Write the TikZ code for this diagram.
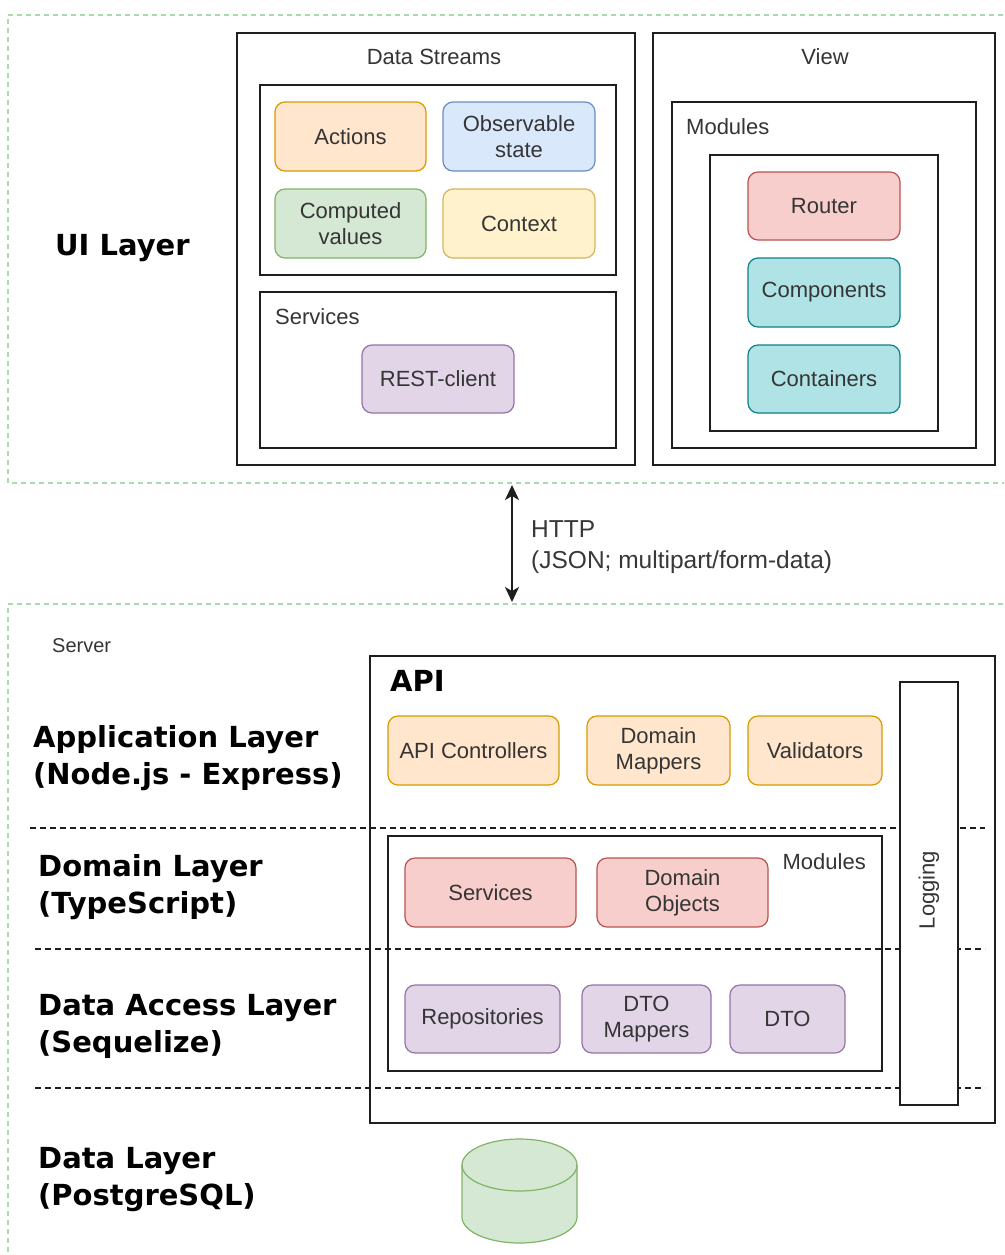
\documentclass[tikz,border=0pt]{standalone}
\usepackage{fontspec}
\setmainfont{Liberation Sans}
\newfontfamily\heavy{DejaVu Sans}
\usetikzlibrary{arrows.meta}

\definecolor{fOrange}{HTML}{FFE6CC}\definecolor{dOrange}{HTML}{D79B00}
\definecolor{fBlue}{HTML}{DAE8FC}\definecolor{dBlue}{HTML}{6C8EBF}
\definecolor{fGreen}{HTML}{D5E8D4}\definecolor{dGreen}{HTML}{82B366}
\definecolor{fYellow}{HTML}{FFF2CC}\definecolor{dYellow}{HTML}{D6B656}
\definecolor{fPurple}{HTML}{E1D5E7}\definecolor{dPurple}{HTML}{9673A6}
\definecolor{fRed}{HTML}{F8CECC}\definecolor{dRed}{HTML}{B85450}
\definecolor{fTeal}{HTML}{B0E3E6}\definecolor{dTeal}{HTML}{0E8088}
\definecolor{laneGreen}{HTML}{A6DCA6}
\definecolor{ink}{HTML}{1E1E1E}

% box placed by its corners (x1,y1) (x2,y2)
\newcommand\putbox[7]{%
  \node[#2, minimum width={((#5)-(#3))*1pt}, minimum height={((#6)-(#4))*1pt}]
    (#1) at ({((#3)+(#5))/2},{((#4)+(#6))/2}) {#7};}

\tikzset{
  frame/.style={draw=ink, line width=1.6pt, inner sep=0pt},
  tile/.style={rounded corners=10pt, line width=1.2pt, align=center, inner sep=0pt,
    text=ink!90, font=\fontsize{22}{26}\selectfont},
  orangebox/.style={tile, draw=dOrange, fill=fOrange},
  bluebox/.style={tile, draw=dBlue, fill=fBlue},
  greenbox/.style={tile, draw=dGreen, fill=fGreen},
  yellowbox/.style={tile, draw=dYellow, fill=fYellow},
  purplebox/.style={tile, draw=dPurple, fill=fPurple},
  redbox/.style={tile, draw=dRed, fill=fRed},
  tealbox/.style={tile, draw=dTeal, fill=fTeal},
  caption/.style={text=ink!90, inner sep=0pt, font=\fontsize{22}{26}\selectfont},
  layer/.style={text=black, inner sep=0pt, align=left, anchor=west,
    font=\heavy\bfseries\fontsize{29}{37}\selectfont},
  lane/.style={draw=laneGreen, line width=1.1pt, dash pattern=on 5pt off 4pt},
  divider/.style={draw=ink, line width=1.3pt, dash pattern=on 6pt off 4pt},
  linktip/.tip={Stealth[length=15pt,width=14pt,inset=4pt]},
}

\begin{document}
\begin{tikzpicture}[x=1pt, y=-1pt]
\useasboundingbox[fill=white] (0,0) rectangle (1004,1255);
\clip (0,0) rectangle (1004,1255);

% swim lanes
\draw[lane] (1030,15) -- (8,15) -- (8,483) -- (1030,483);
\draw[lane] (1030,604) -- (8,604) -- (8,1280);

% ---------- UI layer ----------
\node[layer] (uilayer) at (55,248) {UI Layer};

\putbox{ds}{frame}{237}{33}{635}{465}{}
\node[caption] (dstitle) at (434,57) {Data Streams};
\putbox{dsinner}{frame}{260}{85}{616}{275}{}
\putbox{actions}{orangebox}{275}{102}{426}{171}{Actions}
\putbox{obs}{bluebox}{443}{102}{595}{171}{Observable\\state}
\putbox{comp}{greenbox}{275}{189}{426}{258}{Computed\\values}
\putbox{ctx}{yellowbox}{443}{189}{595}{258}{Context}
\putbox{uisvc}{frame}{260}{292}{616}{448}{}
\node[caption, anchor=west] (uisvctitle) at (275,317) {Services};
\putbox{rest}{purplebox}{362}{345}{514}{413}{REST-client}

\putbox{view}{frame}{653}{33}{995}{465}{}
\node[caption] (viewtitle) at (825,57) {View};
\putbox{vmod}{frame}{672}{102}{976}{448}{}
\node[caption, anchor=west] (vmodtitle) at (686,127) {Modules};
\putbox{vinner}{frame}{710}{155}{938}{431}{}
\putbox{router}{redbox}{748}{172}{900}{240}{Router}
\putbox{components}{tealbox}{748}{258}{900}{327}{Components}
\putbox{containers}{tealbox}{748}{345}{900}{413}{Containers}

% ---------- HTTP link ----------
\coordinate (httptop) at (512,485);
\coordinate (httpbot) at (512,602);
\draw[ink, line width=1.5pt, linktip-linktip] (httptop) -- (httpbot);
\node[caption, anchor=west, align=left, text=black!78, font=\fontsize{24.5}{31}\selectfont]
  (http) at (531,547) {HTTP\\(JSON; multipart/form-data)};

% ---------- Server ----------
\node[caption, anchor=west, font=\fontsize{20}{22}\selectfont] (server) at (52,646) {Server};

\node[layer] (applayer) at (33,758) {Application Layer\\(Node.js - Express)};
\node[layer] (domlayer) at (38,887) {Domain Layer\\(TypeScript)};
\node[layer] (dalayer) at (38,1026) {Data Access Layer\\(Sequelize)};
\node[layer] (datalayer) at (38,1180) {Data Layer\\(PostgreSQL)};

% layer dividers
\draw[divider] (30,828) -- (985,828);
\draw[divider] (35,949) -- (985,949);
\draw[divider] (35,1088) -- (985,1088);

\putbox{api}{frame}{370}{656}{995}{1123}{}
\node[layer] (apititle) at (390,681) {API};
\putbox{logging}{frame, fill=white}{900}{682}{958}{1105}{}
\node[caption, rotate=90] (loggingtext) at (929,890) {Logging};

\putbox{apictl}{orangebox}{388}{716}{559}{785}{API Controllers}
\putbox{dmap}{orangebox}{587}{716}{730}{785}{Domain\\Mappers}
\putbox{valid}{orangebox}{748}{716}{882}{785}{Validators}

\putbox{smod}{frame}{388}{836}{882}{1071}{}
\node[caption, anchor=east] (smodtitle) at (866,862) {Modules};
\putbox{svc}{redbox}{405}{858}{576}{927}{Services}
\putbox{dobj}{redbox}{597}{858}{768}{927}{Domain\\Objects}
\putbox{repo}{purplebox}{405}{985}{560}{1053}{Repositories}
\putbox{dtomap}{purplebox}{582}{985}{711}{1053}{DTO\\Mappers}
\putbox{dto}{purplebox}{730}{985}{845}{1053}{DTO}

% database
\coordinate (db) at (519.5,1191);
\filldraw[fill=fGreen, draw=dGreen, line width=1.2pt]
  (462,1165) -- (462,1217) arc[start angle=180, end angle=360, x radius=57.5pt, y radius=26pt]
  -- (577,1165) arc[start angle=0, end angle=180, x radius=57.5pt, y radius=26pt] -- cycle;
\draw[dGreen, line width=1.2pt] (462,1165) arc[start angle=180, end angle=360, x radius=57.5pt, y radius=26pt];
\end{tikzpicture}
\end{document}
